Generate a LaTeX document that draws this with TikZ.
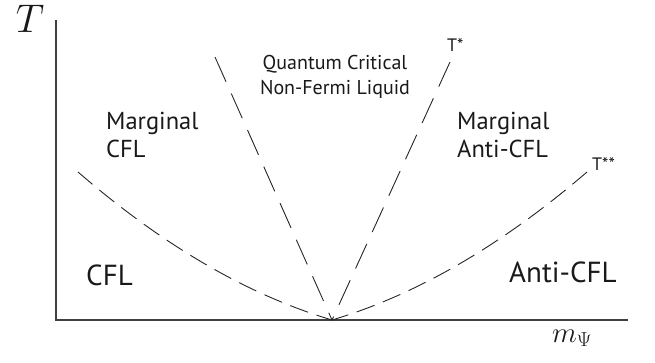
\RequirePackage{fix-cm}
\documentclass[tikz,border=0pt]{standalone}
\usepackage[no-math]{fontspec}
\setmainfont{PT Sans}
\begin{document}
\begin{tikzpicture}[x=1pt,y=1pt,
  axis/.style={line width=1.4pt, draw=black!75},
  curvedash/.style={line width=0.9pt, draw=black!85, dash pattern=on 19pt off 9pt},
  linedash/.style={line width=0.9pt, draw=black!85, dash pattern=on 27pt off 13pt},
  lbl/.style={inner sep=0pt, text=black!90},
  big/.style={lbl, font=\fontsize{29}{31}\selectfont},
  mid/.style={lbl, font=\fontsize{24.5}{28}\selectfont, align=left},
  small/.style={lbl, font=\fontsize{20}{25}\selectfont, align=center},
  tiny/.style={lbl, font=\fontsize{18}{20}\selectfont}]
\useasboundingbox (0,0) rectangle (655,362);
\coordinate (O) at (56,42);
\coordinate (Ytop) at (56,342);
\coordinate (Xend) at (628,42);
\coordinate (V) at (332,42);
\coordinate (L) at (78,190);
\coordinate (R) at (587,190);
\coordinate (A) at (215,305);
\coordinate (B) at (450,300);
\draw[axis] (Ytop) -- (O) -- (Xend);
\draw[curvedash] (L) .. controls (162.7,116.7) and (247.3,67.3) .. (V);
\draw[curvedash] (R) .. controls (501.7,116.7) and (416.7,67.3) .. (V);
\draw[linedash] (A) -- (V);
\draw[linedash] (B) -- (V);
\node[lbl, font=\fontsize{40}{40}\selectfont] (T) at (30,343) {$T$};
\node[lbl, font=\fontsize{29}{29}\selectfont] (m) at (572,24) {$m_\Psi$};
\node[mid, anchor=north west] (mcfl) at (106,250) {Marginal\\CFL};
\node[mid, anchor=north west] (macfl) at (457,250) {Marginal\\Anti-CFL};
\node[small, anchor=north] (qc) at (335,307) {Quantum Critical\\Non-Fermi Liquid};
\node[tiny, anchor=base west] (ts) at (447,310) {T*};
\node[tiny, anchor=base west] (tss) at (592,192) {T**};
\node[big, anchor=base west] (cfl) at (86,77) {CFL};
\node[big, anchor=base west] (acfl) at (509,80) {Anti-CFL};
\end{tikzpicture}
\end{document}
